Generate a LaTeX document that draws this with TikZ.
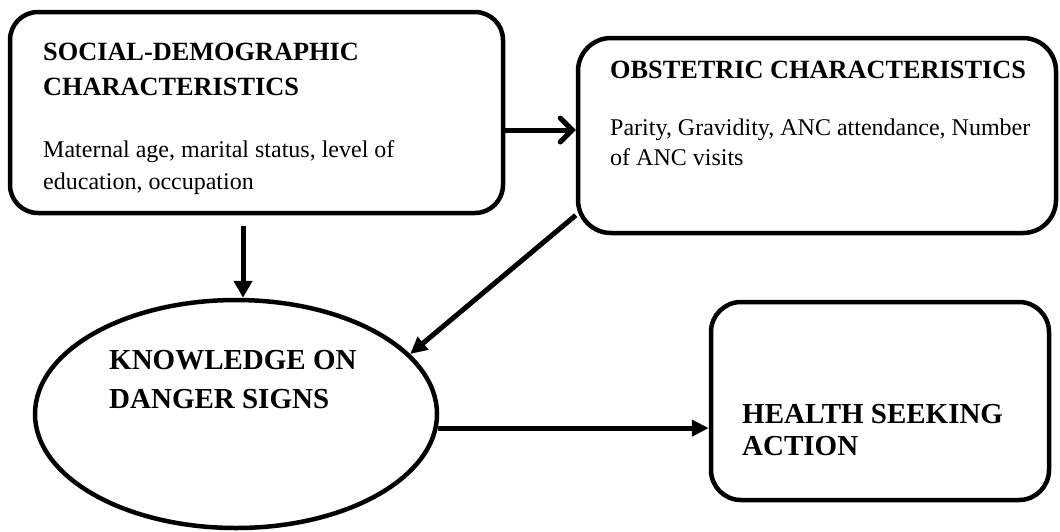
\documentclass[tikz,border=0pt]{standalone}
\usepackage{fontspec}
\setmainfont{Liberation Serif}
\usetikzlibrary{arrows.meta,shapes.geometric}
\begin{document}
\begin{tikzpicture}[x=1pt,y=-1pt,
  boxshape/.style={draw,line width=4.5pt,rounded corners=#1,minimum width=0pt,inner sep=0pt,rectangle},
  hd/.style={font=\fontsize{26.3}{34}\selectfont\bfseries,anchor=base west,inner sep=0pt},
  bd/.style={font=\fontsize{24}{30}\selectfont,anchor=base west,inner sep=0pt},
  big/.style={font=\fontsize{29}{34}\selectfont\bfseries,anchor=base west,inner sep=0pt},
  arr/.style={line width=5pt,-{Triangle[length=17pt,width=18pt]}},
  open/.style={line width=5pt,-{Straight Barb[length=12pt,width=24pt,line cap=round]}}]
\useasboundingbox (0,0) rectangle (1060,531);
% boxes
\node[boxshape=28pt,minimum width=493pt,minimum height=201pt] (soc) at (256.5,112.5) {};
\node[boxshape=33pt,minimum width=478pt,minimum height=195pt] (obs) at (817,135.5) {};
\node[boxshape=30pt,minimum width=338pt,minimum height=198pt] (hsa) at (880,401) {};
\node[draw,ellipse,line width=4.5pt,minimum width=402pt,minimum height=228pt,inner sep=0pt] (kds) at (236,414) {};
% texts
\node[hd] (t1) at (43,60) {SOCIAL-DEMOGRAPHIC};
\node[hd] (t2) at (43,95) {CHARACTERISTICS};
\node[bd] (t3) at (43,157) {Maternal age, marital status, level of};
\node[bd] (t4) at (43,189) {education, occupation};
\node[hd] (t5) at (610,78) {OBSTETRIC CHARACTERISTICS};
\node[bd] (t6) at (610,135) {Parity, Gravidity, ANC attendance, Number};
\node[bd] (t7) at (610,165) {of ANC visits};
\node[big] (t8) at (109,369) {KNOWLEDGE ON};
\node[big] (t9) at (109,408) {DANGER SIGNS};
\node[big] (t10) at (742,423) {HEALTH SEEKING};
\node[big] (t11) at (742,455) {ACTION};
% connectors
\draw[open] ([yshift=-17.5pt]soc.east) -- ([yshift=-17.5pt]soc.east -| obs.west);
\draw[arr,shorten <=11pt] ([xshift=-13.5pt]soc.south) -- ([xshift=-13.5pt]soc.south |- kds.north);
\draw[arr,-{Triangle[length=17pt,width=16pt]}] ([yshift=20pt]obs.south west) -- (kds.19);
\draw[arr,-{Triangle[length=17pt,width=16pt]}] (kds.-4.6) -- (kds.-4.6 -| hsa.west);
\end{tikzpicture}
\end{document}
